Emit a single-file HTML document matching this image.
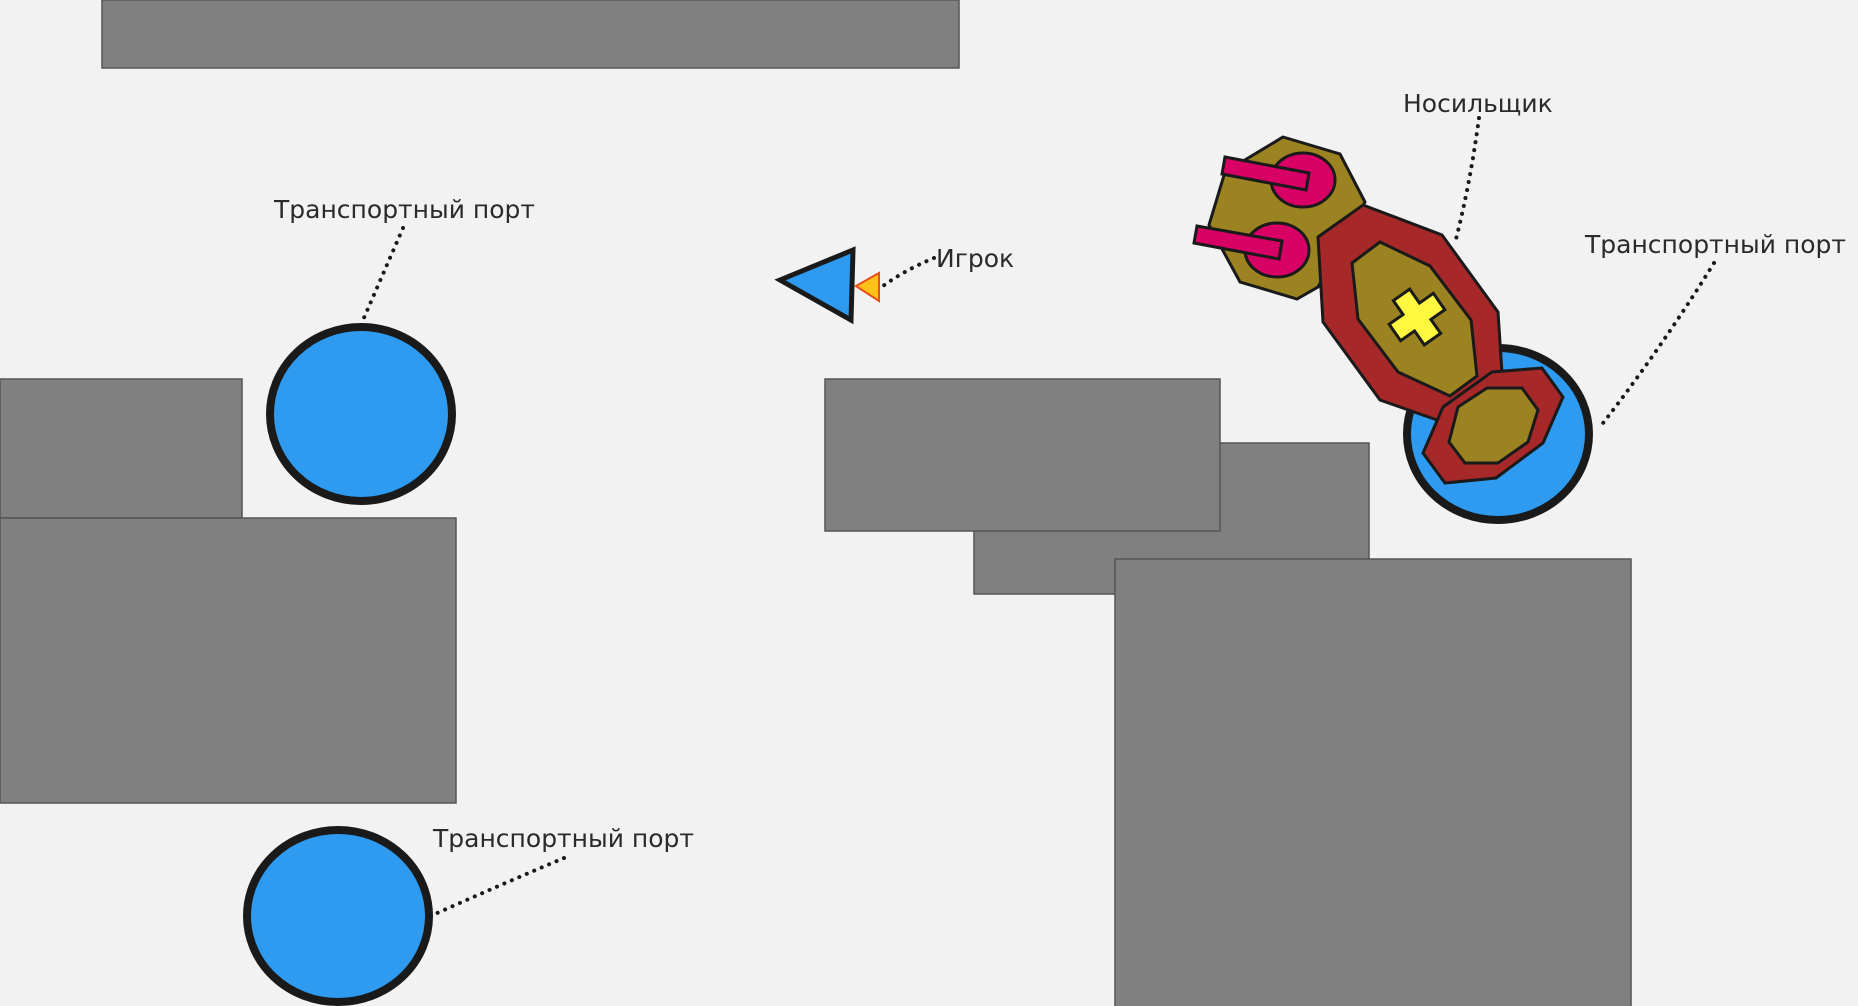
<!DOCTYPE html>
<html><head><meta charset="utf-8"><style>
html,body{margin:0;padding:0;background:#f2f2f2;}
svg{display:block}
text{font-family:"DejaVu Sans","Liberation Sans",sans-serif;font-size:25px;fill:#2a2a2a}
</style></head><body>
<svg width="1858" height="1006" viewBox="0 0 1858 1006" xmlns="http://www.w3.org/2000/svg">
<rect width="1858" height="1006" fill="#f2f2f2"/>
<g fill="#808080" stroke="#555" stroke-width="1.5">
<rect x="102" y="0" width="857" height="68"/>
<rect x="0" y="379" width="242" height="139"/>
<rect x="0" y="518" width="456" height="285"/>
<rect x="974" y="443" width="395" height="151"/>
<rect x="825" y="379" width="395" height="152"/>
<rect x="1115" y="559" width="516" height="450"/>
</g>
<g fill="#2e9bf0" stroke="#1a1a1a" stroke-width="8">
<ellipse cx="361" cy="414" rx="91" ry="87"/>
<ellipse cx="338" cy="916" rx="91" ry="86"/>
<ellipse cx="1498" cy="434" rx="91" ry="86"/>
</g>
<polygon points="780,280 853,250 851,320" fill="#2e9bf0" stroke="#1a1a1a" stroke-width="5" stroke-linejoin="miter"/>
<polygon points="856,286 879,273 879,301" fill="#ffc21a" stroke="#e8501a" stroke-width="2"/>
<g stroke="#1a1a1a" stroke-width="3" stroke-linejoin="miter">
<polygon points="1283,137 1340,154 1365,202 1318,287 1297,299 1240,282 1209,225 1225,172" fill="#9c8321"/>
<ellipse cx="1303" cy="180" rx="32" ry="27" fill="#d80065"/>
<ellipse cx="1277" cy="250" rx="32" ry="27" fill="#d80065"/>
<polygon points="1225,157 1309,173 1306,190 1222,174" fill="#d80065"/>
<polygon points="1197,226 1282,241 1279,259 1194,243" fill="#d80065"/>
<polygon points="1318,237 1363,205 1442,235 1498,312 1502,373 1437,420 1380,400 1323,322" fill="#a62828"/>
<polygon points="1352,263 1380,242 1430,266 1471,320 1477,376 1450,396 1398,372 1358,319" fill="#9c8321"/>
<g transform="translate(1417,317) rotate(-35)">
<polygon points="-10,-27 10,-27 10,-10 27,-10 27,10 10,10 10,27 -10,27 -10,10 -27,10 -27,-10 -10,-10" fill="#fff740"/>
</g>
<polygon points="1443,407 1492,372 1542,368 1563,397 1543,443 1496,478 1445,483 1423,453" fill="#a62828"/>
<polygon points="1458,407 1487,388 1522,388 1538,410 1528,442 1498,463 1465,463 1449,442" fill="#9c8321"/>
</g>
<g stroke="#1a1a1a" stroke-width="4" stroke-linecap="round" stroke-dasharray="0.1 8" fill="none">
<path d="M403,228 L363,320"/>
<path d="M934,258 Q905,270 883,286"/>
<path d="M1479,118 Q1470,185 1455,243"/>
<path d="M1714,263 Q1660,350 1600,427"/>
<path d="M564,858 Q500,885 435,914"/>
</g>
<text x="274" y="218">Транспортный порт</text>
<text x="936" y="267">Игрок</text>
<text x="1403" y="112">Носильщик</text>
<text x="1585" y="253">Транспортный порт</text>
<text x="433" y="847">Транспортный порт</text>
</svg>
</body></html>
